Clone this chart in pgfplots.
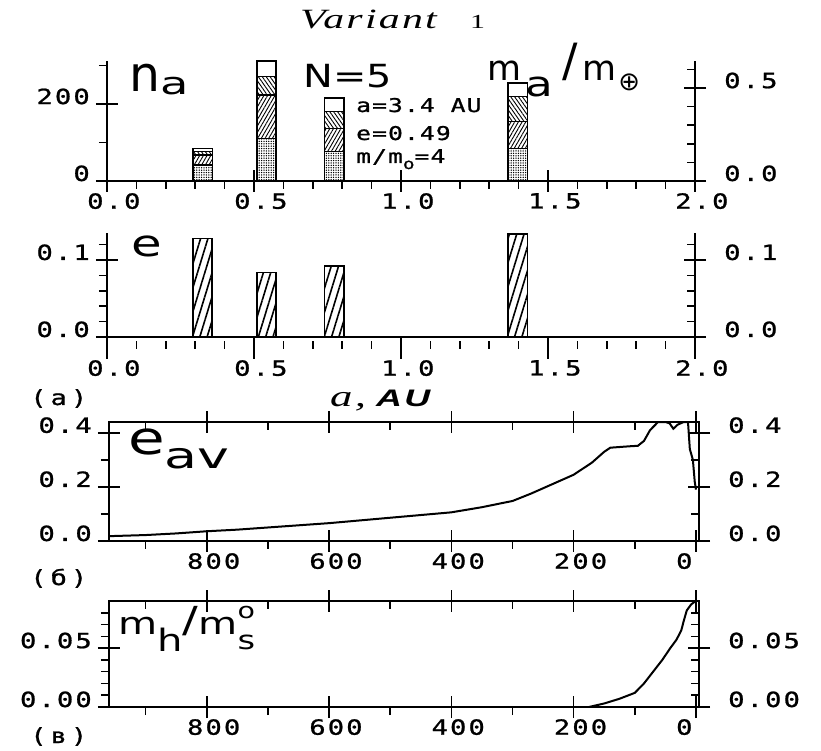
\documentclass[border=0pt]{standalone}
\usepackage{fontspec}
\setmainfont{DejaVu Sans Mono}[FakeStretch=1.3, LetterSpace=10, FakeBold=1]
\newfontfamily\leg{DejaVu Sans Mono}[FakeStretch=1.3, LetterSpace=6, FakeBold=1]
\newfontfamily\lab{DejaVu Sans}
\newfontfamily\ttl{Liberation Serif}[FakeStretch=1.5, LetterSpace=8]
\newfontfamily\aus{Liberation Sans}[FakeStretch=1.5, LetterSpace=10]
\usepackage{graphicx}
\usepackage{pgfplots}
\pgfplotsset{compat=1.18}
\usetikzlibrary{patterns,patterns.meta}

\pgfplotsset{
 plotter/.style={
   scale only axis, anchor=south west, clip=false,
   scaled x ticks=false, scaled y ticks=false,
   tick align=center,
   major tick length=22bp, minor tick length=8bp,
   every tick/.style={black, line width=1.6bp},
   axis line style={line width=2bp},
   ticklabel style={font=\fontsize{21}{21}\selectfont, inner sep=0pt},
   yticklabel style={anchor=base east, xshift=-6bp},
   xticklabel style={anchor=north west, xshift=-20bp, yshift=-1bp},
   minor x tick style={yshift=-4bp},
   minor y tick style={xshift=-4bp},
 },
 rightax/.style={
   axis y line*=right, axis x line=none, xtick=\empty,
   ytick pos=right, yticklabel pos=right,
   yticklabel style={anchor=base west, xshift=24bp},
   every outer y axis line/.append style={-}, every inner y axis line/.append style={-},
 },
}

\begin{document}
\begin{tikzpicture}
\useasboundingbox (0,0) rectangle (821bp,751bp);

% ---------- Panel 1 : n_a ----------
\begin{axis}[plotter, at={(107bp,570bp)}, width=588bp, height=120bp,
  xmin=0, xmax=2, ymin=0, ymax=312,
  axis x line*=bottom, axis y line*=left,
  every outer x axis line/.append style={-}, every outer y axis line/.append style={-},
  every inner x axis line/.append style={-}, every inner y axis line/.append style={-},
  xtick pos=bottom, ytick pos=left,
  xtick={0,0.5,1,1.5,2}, xticklabels={0.0,0.5,1.0,1.5,2.0},
  minor xtick={0.1,0.2,0.3,0.4,0.6,0.7,0.8,0.9,1.1,1.2,1.3,1.4,1.6,1.7,1.8,1.9},
  ytick={0,200}, yticklabels={0,200}, minor ytick={100,300},
  ybar stacked, bar width=0.066,
]
\addplot[draw=black, line width=1.5bp, pattern={Dots[distance=2.4bp,radius=0.75bp]}]
  coordinates {(0.325,42) (0.5425,111) (0.7725,77) (1.3975,85)};
\addplot[draw=black, line width=1.5bp, pattern={Lines[angle=60,distance=3.2bp,line width=0.9bp]}]
  coordinates {(0.325,26) (0.5425,113) (0.7725,60) (1.3975,70)};
\addplot[draw=black, line width=1.5bp, pattern={Lines[angle=-55,distance=3.2bp,line width=0.9bp]}]
  coordinates {(0.325,9) (0.5425,48) (0.7725,44) (1.3975,65)};
\addplot[draw=black, line width=1.5bp, fill=white]
  coordinates {(0.325,8) (0.5425,40) (0.7725,35) (1.3975,35)};
\end{axis}
\begin{axis}[plotter, rightax, at={(107bp,570bp)}, width=588bp, height=120bp,
  xmin=0, xmax=2, ymin=0, ymax=0.646,
  ytick={0,0.5}, yticklabels={0.0,0.5}, minor ytick={0.1,0.2,0.3,0.4,0.6}]
\end{axis}

% ---------- Panel 2 : e ----------
\begin{axis}[plotter, at={(107bp,414bp)}, width=588bp, height=104bp,
  xmin=0, xmax=2, ymin=0, ymax=0.135,
  axis x line*=bottom, axis y line*=left,
  every outer x axis line/.append style={-}, every outer y axis line/.append style={-},
  every inner x axis line/.append style={-}, every inner y axis line/.append style={-},
  xtick pos=bottom, ytick pos=left,
  xtick={0,0.5,1,1.5,2}, xticklabels={0.0,0.5,1.0,1.5,2.0},
  minor xtick={0.1,0.2,0.3,0.4,0.6,0.7,0.8,0.9,1.1,1.2,1.3,1.4,1.6,1.7,1.8,1.9},
  ytick={0,0.1}, yticklabels={0.0,0.1}, minor ytick={0.02,0.04,0.06,0.08,0.12},
  ybar, bar width=0.066,
]
\addplot[draw=black, line width=1.6bp, pattern={Lines[angle=73,distance=7bp,line width=1.6bp]}]
  coordinates {(0.325,0.128) (0.5425,0.0835) (0.7725,0.092) (1.3975,0.134)};
\end{axis}
\begin{axis}[plotter, rightax, at={(107bp,414bp)}, width=588bp, height=104bp,
  xmin=0, xmax=2, ymin=0, ymax=0.135,
  ytick={0,0.1}, yticklabels={0.0,0.1}, minor ytick={0.02,0.04,0.06,0.08,0.12}]
\end{axis}

% ---------- Panel 3 : e_av ----------
\begin{axis}[plotter, at={(109bp,210bp)}, width=590bp, height=119bp,
  x dir=reverse, xmin=-5, xmax=960, ymin=0, ymax=0.44,
  xtick pos=both, xticklabel pos=lower, ytick pos=left,
  xtick={0,200,400,600,800}, xticklabels={0,200,400,600,800},
  minor xtick={100,300,500,700,900},
  ytick={0,0.2,0.4}, yticklabels={0.0,0.2,0.4}, minor ytick={0.1,0.3},
]
\addplot[black, line width=2bp] coordinates {
 (958,0.018) (900,0.022) (850,0.028) (800,0.036) (750,0.042) (700,0.05)
 (650,0.058) (600,0.066) (550,0.076) (500,0.086) (450,0.096) (400,0.106)
 (350,0.125) (300,0.148) (270,0.175) (240,0.205) (200,0.245) (170,0.29)
 (150,0.33) (140,0.345) (110,0.35) (95,0.352) (85,0.37) (75,0.41)
 (62,0.44) (50,0.44) (43,0.435) (37,0.415) (30,0.43) (20,0.44) (13,0.44)
 (10,0.34) (5,0.3) (2,0.22) (0,0.19)};
\end{axis}
\begin{axis}[plotter, rightax, at={(109bp,210bp)}, width=590bp, height=119bp,
  x dir=reverse, xmin=-5, xmax=960, ymin=0, ymax=0.44,
  ytick={0,0.2,0.4}, yticklabels={0.0,0.2,0.4}, minor ytick={0.1,0.3}]
\end{axis}

% ---------- Panel 4 : m_h/m_s ----------
\begin{axis}[plotter, at={(109bp,44bp)}, width=590bp, height=106bp,
  x dir=reverse, xmin=-5, xmax=960, ymin=0, ymax=0.09,
  xtick pos=both, xticklabel pos=lower, ytick pos=left,
  xtick={0,200,400,600,800}, xticklabels={0,200,400,600,800},
  minor xtick={100,300,500,700,900},
  ytick={0,0.05}, yticklabels={0.00,0.05}, minor ytick={0.01,0.02,0.03,0.04,0.06,0.07,0.08},
]
\addplot[black, line width=2bp] coordinates {
 (175,0) (150,0.003) (125,0.007) (100,0.012) (85,0.02) (70,0.03) (55,0.04)
 (42,0.05) (32,0.057) (24,0.065) (20,0.073) (15,0.082) (8,0.087) (3,0.089) (0,0.09)};
\end{axis}
\begin{axis}[plotter, rightax, at={(109bp,44bp)}, width=590bp, height=106bp,
  x dir=reverse, xmin=-5, xmax=960, ymin=0, ymax=0.09,
  ytick={0,0.05}, yticklabels={0.00,0.05}, minor ytick={0.01,0.02,0.03,0.04,0.06,0.07,0.08}]
\end{axis}

% ---------- texts ----------
\node[anchor=base west, inner sep=0] at (300bp,722bp) {\ttl\itshape\fontsize{28}{28}\selectfont Variant};
\node[anchor=base west, inner sep=0] at (470bp,722bp) {\ttl\fontsize{20}{20}\selectfont 1};

\node[anchor=base west, inner sep=0] at (129bp,659bp)
  {\lab\fontsize{49}{49}\selectfont n\raisebox{-3bp}{\fontsize{31}{31}\selectfont\scalebox{1.5}[1]{a}}};
\node[anchor=base west, inner sep=0] at (303bp,663bp)
  {\lab\fontsize{32}{32}\selectfont\scalebox{1.25}[1]{N=5}};
\node[anchor=base west, inner sep=0] at (487bp,670bp)
  {\lab\fontsize{35}{35}\selectfont m\hspace{4bp}\raisebox{-16bp}{\scalebox{1.3}[1]{a}}\hspace{10bp}\raisebox{4bp}{\fontsize{46}{46}\selectfont /}\hspace{4bp}m\hspace{2bp}\raisebox{-10bp}{\fontsize{26}{26}\selectfont ⊕}};

\node[anchor=base west, inner sep=0] at (356bp,639bp) {\leg\fontsize{19}{19}\selectfont a=3.4 AU};
\node[anchor=base west, inner sep=0] at (356bp,611bp) {\leg\fontsize{19}{19}\selectfont e=0.49};
\node[anchor=base west, inner sep=0] at (356bp,588bp)
  {\leg\fontsize{19}{19}\selectfont m/m\raisebox{-6bp}{\fontsize{15}{15}\selectfont o}=4};

\node[anchor=base west, inner sep=0] at (131bp,494bp)
  {\lab\fontsize{37}{37}\selectfont\scalebox{1.35}[1]{e}};

\node[anchor=base west, inner sep=0] at (30bp,346bp) {\leg\fontsize{21}{21}\selectfont(\hspace{4bp}а\hspace{4bp})};
\node[anchor=base west, inner sep=0] at (330bp,344bp)
  {\ttl\itshape\fontsize{30}{30}\selectfont a,\hspace{10bp}{\aus\bfseries\itshape\fontsize{24}{24}\selectfont AU}};

\node[anchor=base west, inner sep=0] at (128bp,296bp)
  {\lab\fontsize{46}{46}\selectfont\scalebox{1.3}[1]{e}\raisebox{-14bp}{\fontsize{36}{36}\selectfont\scalebox{1.5}[1]{av}}};
\node[anchor=base west, inner sep=0] at (30bp,166bp) {\leg\fontsize{21}{21}\selectfont(\hspace{4bp}б\hspace{4bp})};

\node[anchor=base west, inner sep=0] at (118bp,116bp)
  {\lab\fontsize{31}{31}\selectfont\scalebox{1.3}[1]{m\raisebox{-17bp}{h}\raisebox{2bp}{\fontsize{36}{36}\selectfont /}m\makebox[0pt][l]{\raisebox{16bp}{\fontsize{22}{22}\selectfont o}}\raisebox{-15bp}{\fontsize{26}{26}\selectfont s}}};
\node[anchor=base west, inner sep=0] at (30bp,8bp) {\leg\fontsize{21}{21}\selectfont(\hspace{4bp}в\hspace{4bp})};
\end{tikzpicture}
\end{document}
